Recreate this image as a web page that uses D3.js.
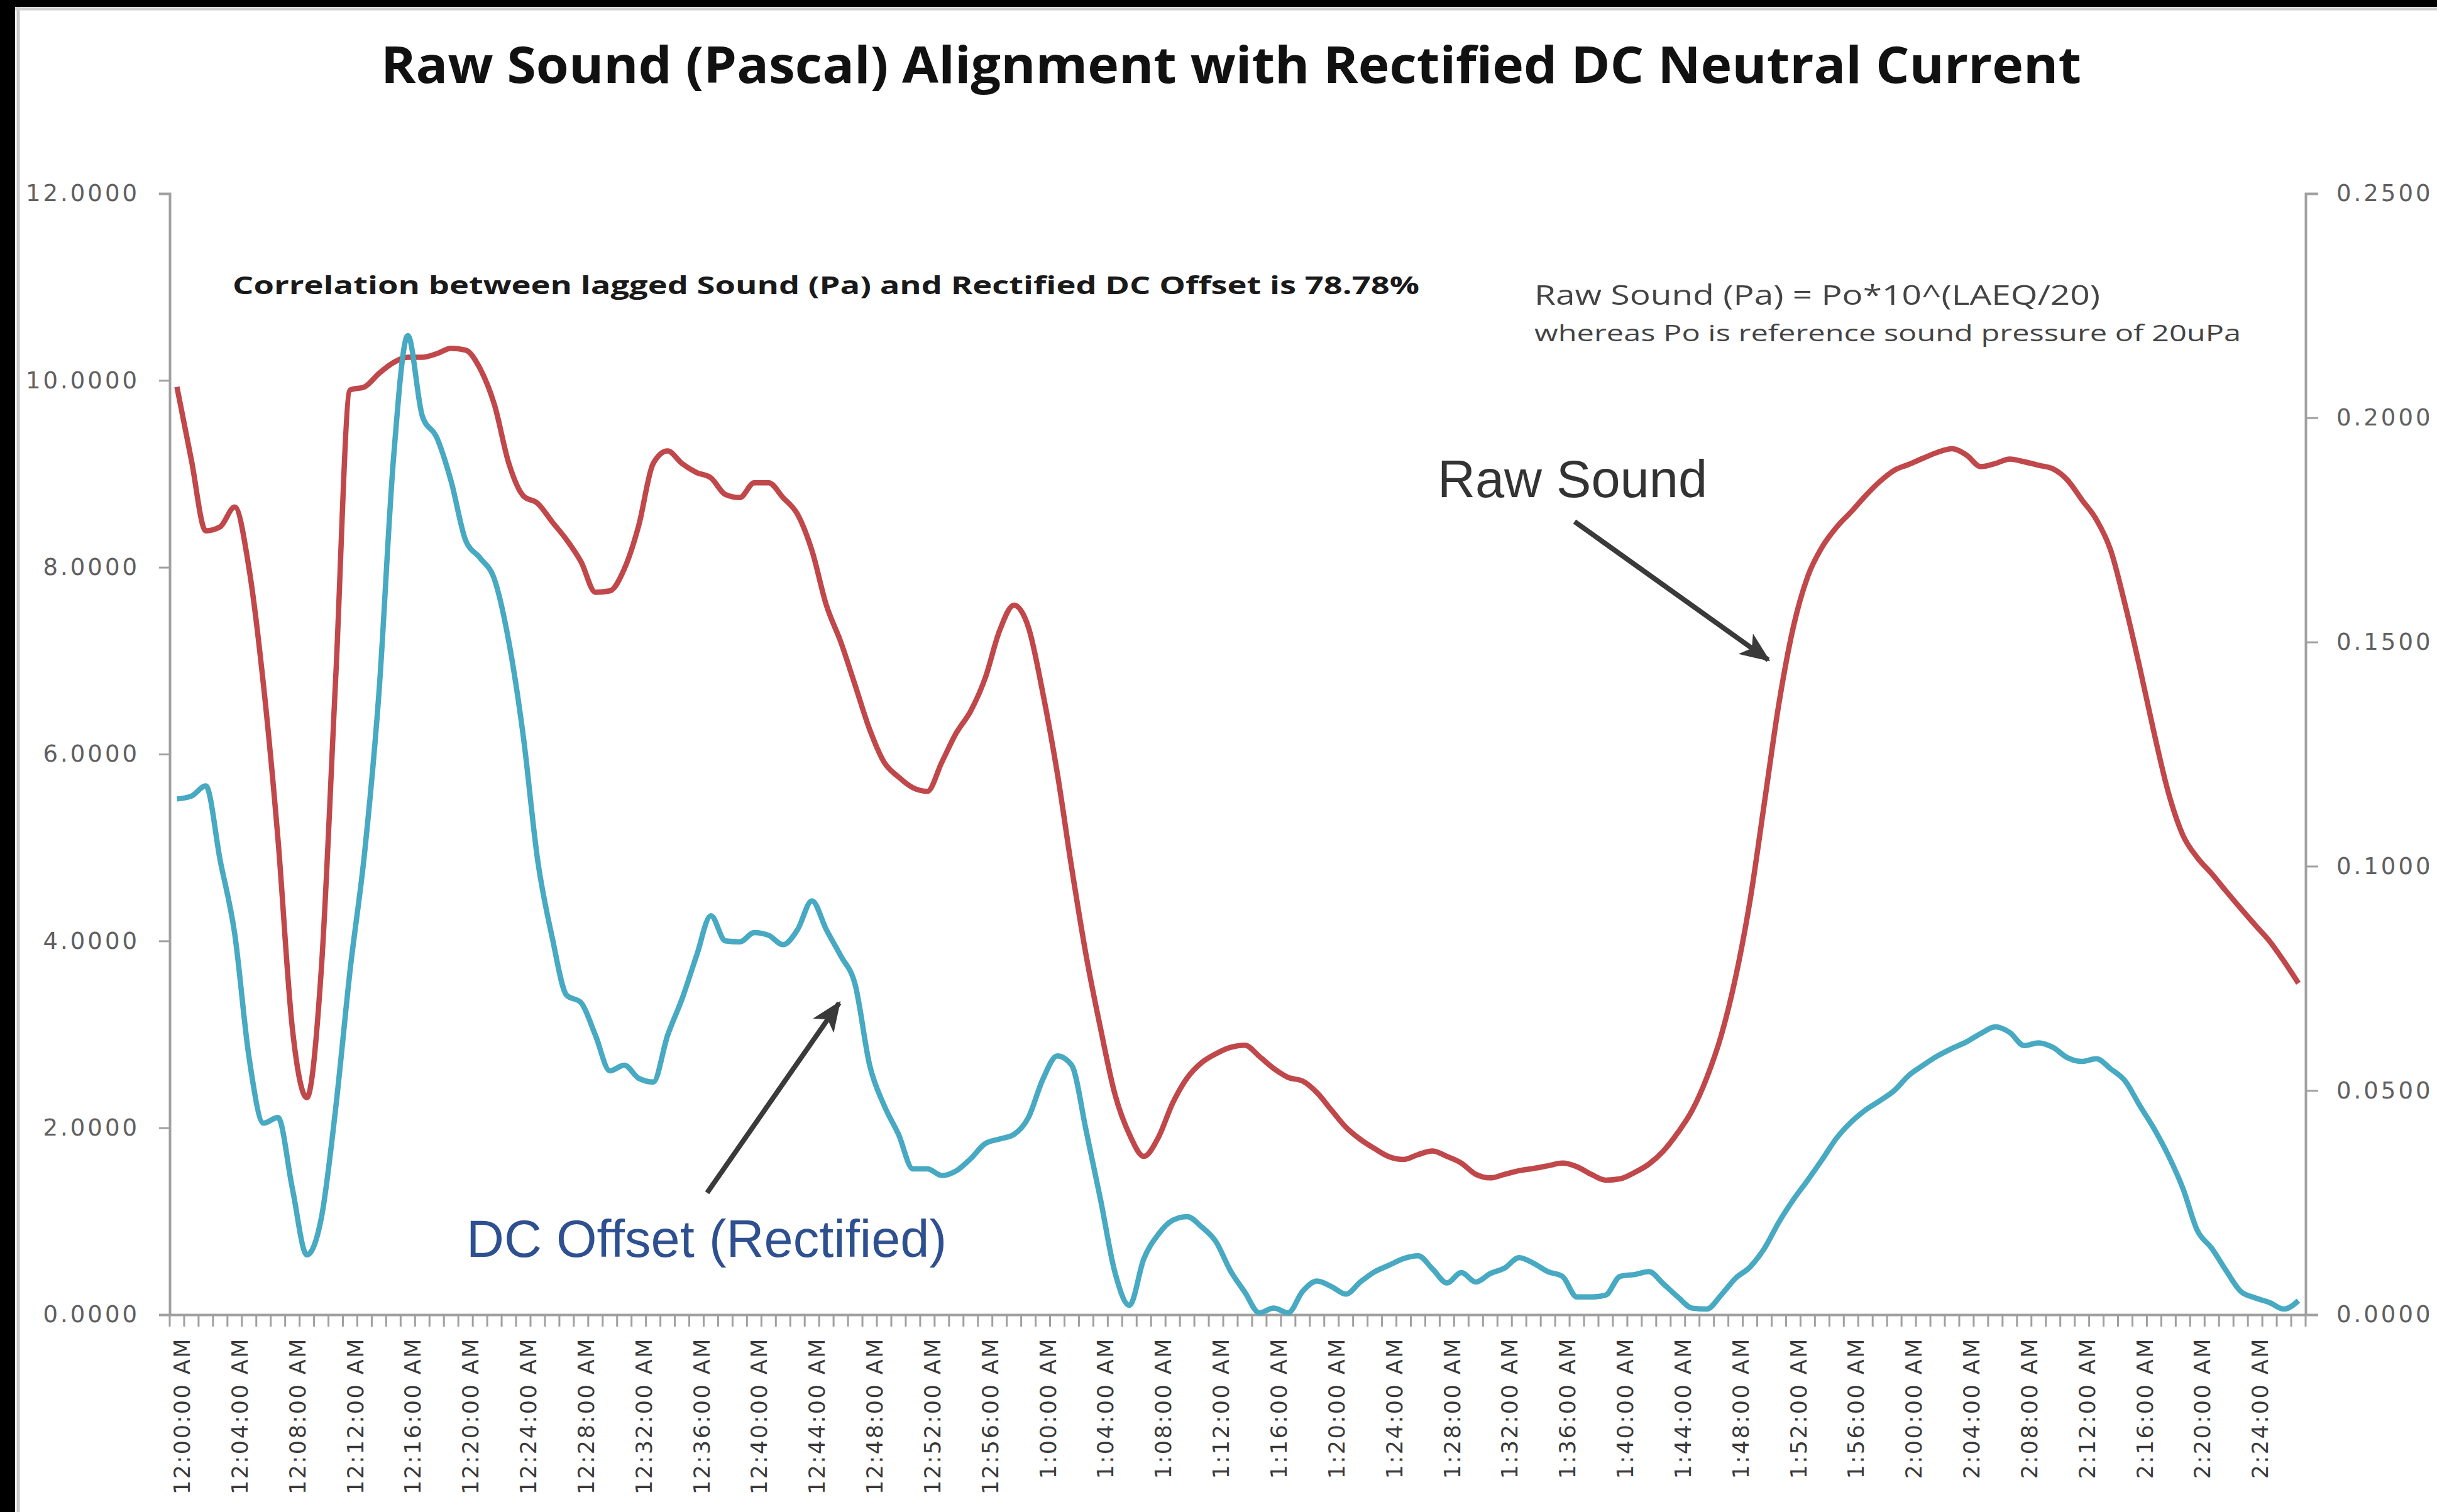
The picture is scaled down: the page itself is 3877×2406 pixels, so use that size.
<!DOCTYPE html>
<html>
<head>
<meta charset="utf-8">
<script src="https://cdn.jsdelivr.net/npm/d3@7"></script>
<style>
body { margin: 0; background: #000; }
</style>
</head>
<body>
<script>
const W = 3877, H = 2406

// x labels, one every 4 minutes (data is one reading per minute)
const tickLabels = ["12:00:00 AM","12:04:00 AM","12:08:00 AM","12:12:00 AM","12:16:00 AM","12:20:00 AM",
  "12:24:00 AM","12:28:00 AM","12:32:00 AM","12:36:00 AM","12:40:00 AM","12:44:00 AM","12:48:00 AM",
  "12:52:00 AM","12:56:00 AM","1:00:00 AM","1:04:00 AM","1:08:00 AM","1:12:00 AM","1:16:00 AM",
  "1:20:00 AM","1:24:00 AM","1:28:00 AM","1:32:00 AM","1:36:00 AM","1:40:00 AM","1:44:00 AM",
  "1:48:00 AM","1:52:00 AM","1:56:00 AM","2:00:00 AM","2:04:00 AM","2:08:00 AM","2:12:00 AM",
  "2:16:00 AM","2:20:00 AM","2:24:00 AM"]

const leftTicks = [0, 2, 4, 6, 8, 10, 12]
const rightTicks = [0, 0.05, 0.10, 0.15, 0.20, 0.25]

// rectified DC offset (left axis)
const dcOffset = [5.52,5.55,5.66,4.86,4.08,2.75,2.05,2.11,1.35,0.64,
  1.03,2.21,3.69,4.94,6.66,9.15,10.48,9.62,9.39,8.92,
  8.29,8.10,7.87,7.20,6.19,4.86,4.04,3.42,3.34,2.99,
  2.61,2.67,2.53,2.49,2.99,3.38,3.84,4.27,4.00,3.99,
  4.09,4.06,3.96,4.12,4.43,4.12,3.84,3.53,2.67,2.24,
  1.93,1.56,1.56,1.49,1.54,1.67,1.83,1.88,1.93,2.11,
  2.52,2.77,2.67,1.97,1.23,0.45,0.10,0.60,0.86,1.01,
  1.05,0.94,0.78,0.47,0.24,0.02,0.07,0.02,0.25,0.36,
  0.30,0.22,0.35,0.46,0.53,0.60,0.63,0.49,0.34,0.45,
  0.35,0.44,0.50,0.61,0.55,0.46,0.41,0.19,0.19,0.21,
  0.41,0.43,0.46,0.33,0.19,0.07,0.06,0.21,0.39,0.51,
  0.71,0.99,1.23,1.44,1.66,1.89,2.06,2.19,2.29,2.40,
  2.56,2.67,2.77,2.85,2.92,3.01,3.08,3.02,2.88,2.91,
  2.86,2.75,2.71,2.74,2.63,2.50,2.24,1.99,1.70,1.35,
  0.90,0.71,0.47,0.25,0.18,0.13,0.06,0.15]

// raw sound in Pa (right axis)
const rawSound = [0.2069,0.1906,0.1748,0.1757,0.1801,0.1663,0.1403,0.1061,0.0638,0.0484,
  0.0768,0.1419,0.2062,0.2069,0.2099,0.2123,0.2135,0.2135,0.2143,0.2155,
  0.2151,0.2110,0.2029,0.1898,0.1826,0.1809,0.1768,0.1728,0.1679,0.1611,
  0.1614,0.1663,0.1760,0.1898,0.1926,0.1898,0.1878,0.1866,0.1829,0.1822,
  0.1855,0.1855,0.1822,0.1785,0.1704,0.1582,0.1500,0.1403,0.1305,0.1232,
  0.1199,0.1175,0.1167,0.1232,0.1297,0.1346,0.1419,0.1525,0.1582,0.1533,
  0.1386,0.1208,0.0996,0.0801,0.0638,0.0491,0.0402,0.0353,0.0395,0.0472,
  0.0528,0.0562,0.0582,0.0596,0.0601,0.0576,0.0549,0.0529,0.0521,0.0495,
  0.0456,0.0418,0.0391,0.0370,0.0352,0.0346,0.0357,0.0365,0.0353,0.0338,
  0.0313,0.0305,0.0313,0.0321,0.0326,0.0332,0.0338,0.0330,0.0313,0.0300,
  0.0303,0.0317,0.0336,0.0365,0.0406,0.0456,0.0528,0.0622,0.0752,0.0923,
  0.1142,0.1362,0.1533,0.1646,0.1712,0.1756,0.1790,0.1826,0.1858,0.1883,
  0.1896,0.1910,0.1923,0.1931,0.1917,0.1891,0.1898,0.1908,0.1902,0.1894,
  0.1886,0.1861,0.1817,0.1773,0.1704,0.1582,0.1444,0.1297,0.1163,0.1069,
  0.1019,0.0983,0.0944,0.0906,0.0869,0.0833,0.0788,0.0739]

const plotLeft = 270, plotRight = 3668, plotTop = 308, plotBottom = 2092

const svg = d3.select("body").append("svg")
  .attr("width", W).attr("height", H)

svg.append("rect").attr("width", W).attr("height", H).attr("fill", "#000")
svg.append("rect").attr("x", 24).attr("y", 11).attr("width", W - 24).attr("height", H - 11)
  .attr("fill", "#fff")
svg.append("line").attr("x1", 29).attr("x2", 29).attr("y1", 11).attr("y2", H)
  .attr("stroke", "#c8c8c8").attr("stroke-width", 5)
svg.append("line").attr("x1", 24).attr("x2", W).attr("y1", 14).attr("y2", 14)
  .attr("stroke", "#d0d0d0").attr("stroke-width", 5)

const idx = d3.range(rawSound.length)
const x = d3.scaleBand().domain(idx).range([plotLeft, plotRight])
const cx = i => x(i) + x.bandwidth() / 2
const yL = d3.scaleLinear().domain([0, 12]).range([plotBottom, plotTop])
const yR = d3.scaleLinear().domain([0, 0.25]).range([plotBottom, plotTop])

const axisColor = "#a0a0a0"
const labelFont = "DejaVu Sans"

// left axis
const gL = svg.append("g").attr("transform", `translate(${plotLeft},0)`)
  .call(d3.axisLeft(yL).tickValues(leftTicks).tickFormat(d3.format(".4f")).tickSize(17).tickPadding(31))
// right axis
const gR = svg.append("g").attr("transform", `translate(${plotRight},0)`)
  .call(d3.axisRight(yR).tickValues(rightTicks).tickFormat(d3.format(".4f")).tickSize(20).tickPadding(29))

;[gL, gR].forEach(g => {
  g.select(".domain").attr("stroke", axisColor).attr("stroke-width", 4)
  g.selectAll(".tick line").attr("stroke", axisColor).attr("stroke-width", 3)
  g.selectAll(".tick text").attr("font-family", labelFont).attr("font-size", 37)
    .attr("letter-spacing", 4).attr("fill", "#606060")
})

// x axis: baseline, minute ticks, 4-minute labels
const gX = svg.append("g").attr("transform", `translate(0,${plotBottom})`)
  .call(d3.axisBottom(x).tickValues(idx.filter(i => i % 4 === 0))
    .tickFormat(i => tickLabels[i / 4]).tickSize(0))
gX.select(".domain").attr("stroke", axisColor).attr("stroke-width", 4)
gX.selectAll(".tick text")
  .attr("font-family", labelFont).attr("font-size", 35).attr("letter-spacing", 2.5)
  .attr("fill", "#3a3a3a")
  .attr("text-anchor", "end")
  .attr("transform", "rotate(-90)")
  .attr("x", -36).attr("y", 8).attr("dy", "0.36em")

gX.selectAll(".minor").data(d3.range(rawSound.length + 1)).enter().append("line")
  .attr("class", "minor")
  .attr("x1", k => plotLeft + x.step() * k).attr("x2", k => plotLeft + x.step() * k)
  .attr("y1", 0).attr("y2", 19)
  .attr("stroke", axisColor).attr("stroke-width", 3)

// series (smoothed like the spreadsheet lines)
const lineR = d3.line().x((d, i) => cx(i)).y(d => yR(d)).curve(d3.curveMonotoneX)
const lineL = d3.line().x((d, i) => cx(i)).y(d => yL(d)).curve(d3.curveMonotoneX)

svg.append("path").datum(rawSound).attr("d", lineR)
  .attr("fill", "none").attr("stroke", "#c0474a").attr("stroke-width", 8.5)
  .attr("stroke-linejoin", "round")
svg.append("path").datum(dcOffset).attr("d", lineL)
  .attr("fill", "none").attr("stroke", "#47a9c2").attr("stroke-width", 8.5)
  .attr("stroke-linejoin", "round")

// texts
svg.append("text").attr("x", 606).attr("y", 132)
  .attr("font-family", "Open Sans").attr("font-weight", 700).attr("font-size", 80)
  .attr("textLength", 2705).attr("lengthAdjust", "spacingAndGlyphs").attr("fill", "#111")
  .text("Raw Sound (Pascal) Alignment with Rectified DC Neutral Current")

svg.append("text").attr("x", 370).attr("y", 468)
  .attr("font-family", "Open Sans").attr("font-weight", 700).attr("font-size", 40)
  .attr("textLength", 1888).attr("lengthAdjust", "spacingAndGlyphs").attr("fill", "#1a1a1a")
  .text("Correlation between lagged Sound (Pa) and Rectified DC Offset is 78.78%")

svg.append("text").attr("x", 2441).attr("y", 485)
  .attr("font-family", "Open Sans").attr("font-size", 44)
  .attr("textLength", 900).attr("lengthAdjust", "spacingAndGlyphs").attr("fill", "#444")
  .text("Raw Sound (Pa) = Po*10^(LAEQ/20)")

svg.append("text").attr("x", 2441).attr("y", 543)
  .attr("font-family", "Open Sans").attr("font-size", 36)
  .attr("textLength", 1124).attr("lengthAdjust", "spacingAndGlyphs").attr("fill", "#444")
  .text("whereas Po is reference sound pressure of 20uPa")

svg.append("text").attr("x", 2287).attr("y", 791)
  .attr("font-family", "Liberation Sans").attr("font-size", 83).attr("fill", "#333")
  .text("Raw Sound")

svg.append("text").attr("x", 742).attr("y", 2000)
  .attr("font-family", "Liberation Sans").attr("font-size", 83).attr("fill", "#2e5090")
  .text("DC Offset (Rectified)")

// arrows
svg.append("defs").append("marker")
  .attr("id", "arrow").attr("markerUnits", "userSpaceOnUse")
  .attr("viewBox", "0 -10 24 20").attr("refX", 22).attr("refY", 0)
  .attr("markerWidth", 48).attr("markerHeight", 40).attr("orient", "auto")
  .append("path").attr("d", "M0,-10L24,0L0,10L6,0Z").attr("fill", "#3a3a3a")

const arrows = [
  { x1: 2505, y1: 830, x2: 2813, y2: 1050 },
  { x1: 1125, y1: 1898, x2: 1335, y2: 1596 }
]
svg.selectAll(".arrow").data(arrows).enter().append("line")
  .attr("class", "arrow")
  .attr("x1", d => d.x1).attr("y1", d => d.y1).attr("x2", d => d.x2).attr("y2", d => d.y2)
  .attr("stroke", "#3a3a3a").attr("stroke-width", 8).attr("marker-end", "url(#arrow)")
</script>
</body>
</html>
